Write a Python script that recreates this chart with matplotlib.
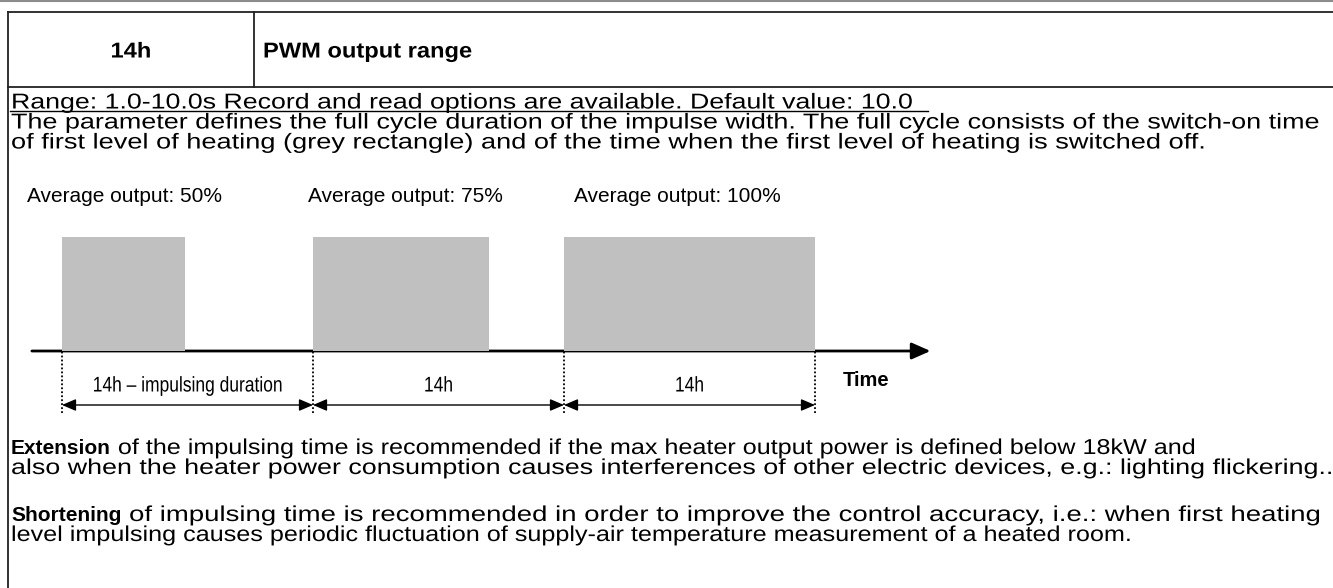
import matplotlib
matplotlib.use('Agg')
import matplotlib.pyplot as plt
from matplotlib.patheffects import AbstractPathEffect
from matplotlib.transforms import Affine2D

plt.rcParams['font.family'] = ['Liberation Sans', 'DejaVu Sans']

# --- data ---
cycle_start = [0, 1, 2]          # start of each PWM cycle (cycle units)
duty = [0.49, 0.70, 1.0]         # drawn on-time as fraction of the cycle
avg_labels = ['Average output: 50%', 'Average output: 75%', 'Average output: 100%']
span_labels = ['14h \u2013 impulsing duration', '14h', '14h']

header_code = '14h'
header_title = 'PWM output range'
range_line = 'Range: 1.0-10.0s Record and read options are available. Default value: 10.0'
intro_lines = [
    'The parameter defines the full cycle duration of the impulse width. The full cycle consists of the switch-on time',
    'of first level of heating (grey rectangle) and of the time when the first level of heating is switched off.',
]
ext_lines = [
    ('Extension', ' of the impulsing time is recommended if the max heater output power is defined below 18kW and'),
    ('', 'also when the heater power consumption causes interferences of other electric devices, e.g.: lighting flickering..'),
]
short_lines = [
    ('Shortening', ' of impulsing time is recommended in order to improve the control accuracy, i.e.: when first heating'),
    ('', 'level impulsing causes periodic fluctuation of supply-air temperature measurement of a heated room.'),
]

FS = 15.5          # body font size
FS_BOLD = 15       # bold lead words
SX_HEAD = 1.1


class Stretch(AbstractPathEffect):
    # stretch text glyphs horizontally (from left origin or around centre)
    def __init__(self, sx, center=False):
        super().__init__()
        self.sx = sx
        self.center = center

    def draw_path(self, renderer, gc, tpath, affine, rgbFace=None):
        t = Affine2D()
        if self.center:
            ext = tpath.get_extents()
            cx = (ext.x0 + ext.x1) / 2
            t.translate(-cx, 0).scale(self.sx, 1).translate(cx, 0)
        else:
            t.scale(self.sx, 1)
        renderer.draw_path(gc, tpath, t + affine, rgbFace)


fig = plt.figure(figsize=(13.33, 5.88), dpi=100)

# page axes in pixel units (y down)
ax = fig.add_axes([0, 0, 1, 1])
ax.set_xlim(0, 1333)
ax.set_ylim(588, 0)
ax.axis('off')

# diagram axes in cycle units / level units
X0, CYC = 62, 251     # px of t=0, px per cycle
Y0, LVL = 351, 114    # px of level 0, px per level
axd = fig.add_axes([0, 0, 1, 1])
axd.set_xlim(-X0 / CYC, (1333 - X0) / CYC)
axd.set_ylim((Y0 - 588) / LVL, Y0 / LVL)
axd.axis('off')
axd.patch.set_alpha(0)

renderer = fig.canvas.get_renderer()

# table frame
ax.plot([0, 1333], [0.8, 0.8], color='#8c8c8c', lw=1.5)
frame = dict(color='#222222', lw=1.3)
ax.plot([8, 1333], [12, 12], **frame)
ax.plot([8, 1333], [87, 87], **frame)
ax.plot([8, 8], [12, 588], **frame)
ax.plot([254, 254], [12, 87], **frame)

ax.text(131, 57.5, header_code, fontsize=FS, weight='bold', ha='center', va='baseline',
        path_effects=[Stretch(SX_HEAD, center=True)])
ax.text(263, 57.5, header_title, fontsize=FS, weight='bold', ha='left', va='baseline',
        path_effects=[Stretch(SX_HEAD)])


def body_line(y, bold, rest, end_x, x=11):
    # bold lead word (natural width), then regular text stretched to end at end_x
    if bold:
        b = ax.text(x, y, bold, fontsize=FS_BOLD, weight='bold', ha='left', va='baseline')
        x += b.get_window_extent(renderer).width
    t = ax.text(x, y, rest, fontsize=FS, ha='left', va='baseline')
    w = t.get_window_extent(renderer).width
    t.set_path_effects([Stretch((end_x - x) / w)])


# right ends of the lines in the reference (px)
body_line(108.5, '', range_line, 912)
ax.plot([10, 928], [111, 111], color='black', lw=1)
for i, (line, end) in enumerate(zip(intro_lines, [1317, 1203])):
    body_line(128.5 + 20 * i, '', line, end)
for i, ((bold, rest), end) in enumerate(zip(ext_lines, [1193, 1330])):
    body_line(454 + 20 * i, bold, rest, end)
for i, ((bold, rest), end) in enumerate(zip(short_lines, [1318, 1130])):
    body_line(521 + 20 * i, bold, rest, end)

# --- PWM diagram ---
for x, lab in zip([27, 308, 574], avg_labels):
    ax.text(x, 196, lab, fontsize=15, ha='left', va='center')

axd.bar(cycle_start, [1] * len(cycle_start), width=duty, align='edge',
        color='#c0c0c0', edgecolor='none', zorder=3)
axd.annotate('', xy=(3.46, 0), xytext=(-0.12, 0),
             arrowprops=dict(arrowstyle='-|>,head_length=0.95,head_width=0.42',
                             mutation_scale=12, lw=2, color='black',
                             shrinkA=0, shrinkB=0), zorder=2)

bounds = cycle_start + [cycle_start[-1] + 1]
axd.vlines(bounds, -62 / LVL, 0, colors='black', linestyles=(0, (1, 1.2)), lw=1.3, zorder=4)

y_dim = -(405 - Y0) / LVL
for s, lab in zip(cycle_start, span_labels):
    axd.annotate('', xy=(s + 1, y_dim), xytext=(s, y_dim),
                 arrowprops=dict(arrowstyle='<|-|>,head_length=0.7,head_width=0.3',
                                 mutation_scale=12, lw=1, color='black',
                                 shrinkA=0, shrinkB=0))
    axd.text(s + 0.5, -(386 - Y0) / LVL, lab, fontsize=15.3, ha='center', va='center',
             path_effects=[Stretch(0.82, center=True)])

axd.text((843 - X0) / CYC, -(380 - Y0) / LVL, 'Time', fontsize=14.5, weight='bold',
         ha='left', va='center')

fig.savefig('out.png', dpi=100)
